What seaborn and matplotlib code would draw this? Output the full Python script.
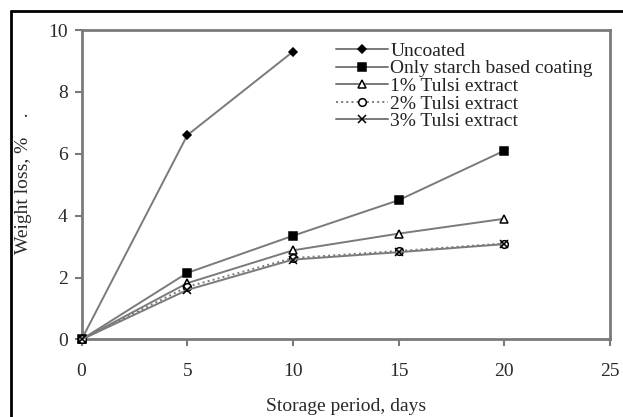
import matplotlib
matplotlib.use("Agg")
import matplotlib.pyplot as plt
import seaborn as sns
import pandas as pd
from matplotlib.lines import Line2D

days = [0, 5, 10, 15, 20]
uncoated_days = [0, 5, 10]
uncoated = [0, 6.6, 9.3]
starch = [0, 2.15, 3.35, 4.5, 6.1]
tulsi1 = [0, 1.82, 2.88, 3.42, 3.9]
tulsi2 = [0, 1.7, 2.63, 2.86, 3.1]
tulsi3 = [0, 1.6, 2.58, 2.82, 3.08]
labels = ["Uncoated", "Only starch based coating", "1% Tulsi extract",
          "2% Tulsi extract", "3% Tulsi extract"]
xticks = [0, 5, 10, 15, 20, 25]
yticks = [0, 2, 4, 6, 8, 10]

sns.set_theme(style="white")
plt.rcParams['font.family'] = ['Liberation Serif', 'DejaVu Serif']

fig = plt.figure(figsize=(6.23, 4.17), dpi=100)
ax = fig.add_axes([0.131, 0.186, 0.848, 0.742])

gray = "#7a7a7a"
series = [
    (uncoated_days, uncoated, labels[0], "D", "black", "-", 4.5),
    (days, starch, labels[1], "s", "black", "-", 5.5),
    (days, tulsi1, labels[2], "^", "white", "-", 6),
    (days, tulsi2, labels[3], "o", "white", ":", 5.5),
    (days, tulsi3, labels[4], "x", "black", "-", 5.5),
]
for xs, ys, lab, mk, mfc, ls, ms in series:
    df = pd.DataFrame({"x": xs, "y": ys})
    sns.lineplot(data=df, x="x", y="y", ax=ax, label=lab, color=gray,
                 linestyle=ls, linewidth=1.4, marker=mk, markersize=ms,
                 markerfacecolor=mfc, markeredgecolor="black",
                 markeredgewidth=1.1, clip_on=False, zorder=3)

ax.set_xlim(0, 25)
ax.set_ylim(0, 10)
ax.set_xticks(xticks)
ax.set_yticks(yticks)
ax.tick_params(axis="both", labelsize=14, colors="#2a2a2a", length=5,
               width=1.5, direction="out", color=gray)
ax.tick_params(axis="x", pad=12, bottom=True)
ax.tick_params(axis="y", pad=5, left=True)
for s in ax.spines.values():
    s.set_color(gray)
    s.set_linewidth(2)

ax.set_xlabel("Storage period, days", fontsize=14, color="#2a2a2a")
ax.set_ylabel("Weight loss, %    .", fontsize=14, color="#2a2a2a")
ax.xaxis.set_label_coords(0.5, -0.19)
ax.yaxis.set_label_coords(-0.094, 0.505)

leg = ax.legend(loc="upper left", bbox_to_anchor=(0.455, 1.005), frameon=False,
                fontsize=14, handlelength=2.7, handletextpad=0.12,
                labelspacing=0.0, borderaxespad=0.3)
for t in leg.get_texts():
    t.set_color("#222222")

fig.add_artist(Line2D([11/623, 1], [1-11/417, 1-11/417], color="black", lw=2))
fig.add_artist(Line2D([11/623, 11/623], [0, 1-11/417], color="black", lw=2))

fig.savefig("out.png", dpi=100)
